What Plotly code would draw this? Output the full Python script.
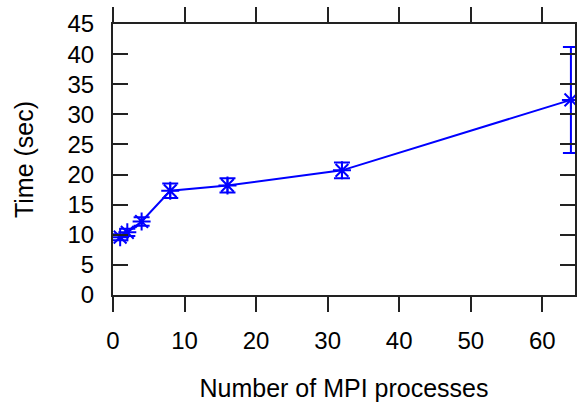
import plotly.graph_objects as go

procs = [1, 2, 4, 8, 16, 32, 64]
times = [9.6, 10.4, 12.2, 17.3, 18.2, 20.7, 32.4]
errs = [0.5, 0.6, 0.7, 1.2, 1.2, 1.3, 8.8]
x_ticks = [0, 10, 20, 30, 40, 50, 60]
y_ticks = [0, 5, 10, 15, 20, 25, 30, 35, 40, 45]

blue = "#0000FF"
fig = go.Figure()
fig.add_trace(go.Scatter(
    x=procs, y=times, mode="lines+markers",
    line=dict(color=blue, width=2),
    marker=dict(symbol="asterisk-open", size=15, color=blue, line=dict(color=blue, width=2)),
    error_y=dict(type="data", array=errs, visible=True, color=blue, thickness=2, width=8),
    cliponaxis=False,
))

font = dict(family="Liberation Sans, Arial, sans-serif", size=24, color="black")
title_font = dict(family="Liberation Sans, Arial, sans-serif", size=25, color="black")
fig.update_layout(
    width=577, height=405,
    margin=dict(l=113, r=0, t=24, b=110),
    paper_bgcolor="white", plot_bgcolor="white",
    showlegend=False, font=font,
    xaxis=dict(range=[0, 64.57], tickvals=x_ticks, ticks="outside", ticklen=15, tickwidth=2,
               tickcolor="#222", showline=True, linewidth=2, linecolor="#222", mirror="ticks",
               showgrid=False, zeroline=False, ticklabelstandoff=8,
               title=dict(text="Number of MPI processes", standoff=27, font=title_font)),
    yaxis=dict(range=[0, 45], tickvals=y_ticks, ticks="inside", ticklen=15, tickwidth=2,
               tickcolor="#222", showline=True, linewidth=2, linecolor="#222", mirror="ticks",
               showgrid=False, zeroline=False, ticklabelstandoff=12,
               title=dict(text="Time (sec)", standoff=27, font=title_font)),
)
fig.write_html("out.html")
